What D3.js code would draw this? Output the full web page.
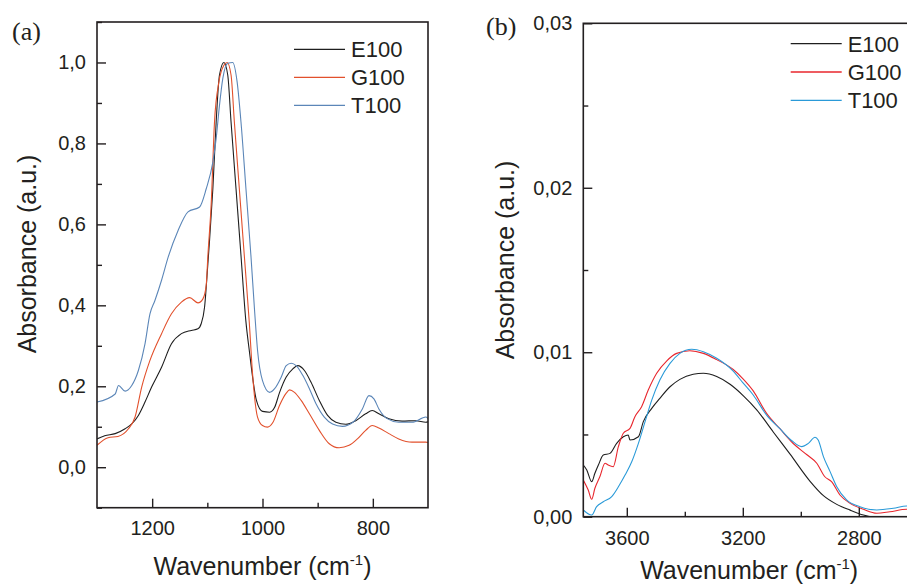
<!DOCTYPE html>
<html>
<head>
<meta charset="utf-8">
<script src="https://cdn.jsdelivr.net/npm/d3@7"></script>
<style>
    body { margin: 0; background: #fff; }
    text { font-family: "Liberation Sans", Arial, sans-serif; fill: #231f20; }
</style>
</head>
<body>
<div id="chart"></div>
<script>
// panel (a): 700-1300 cm-1, [wavenumber, absorbance]
var e100A = [[1300,0.070],[1286,0.078],[1267,0.083],[1249,0.095],[1237,0.107],[1225,0.128],[1213,0.161],
    [1201,0.198],[1183,0.247],[1165,0.305],[1147,0.330],[1129,0.338],[1117,0.342],[1111,0.355],[1105,0.396],
    [1099,0.503],[1096,0.560],[1090,0.688],[1084,0.853],[1078,0.969],[1070,1.0],[1063,0.969],[1057,0.853],
    [1048,0.688],[1039,0.523],[1030,0.359],[1024,0.289],[1011,0.165],[1000,0.138],[987,0.136],[978,0.148],
    [969,0.185],[957,0.223],[945,0.243],[936,0.251],[924,0.239],[912,0.210],[897,0.165],[882,0.128],
    [867,0.111],[849,0.106],[831,0.115],[813,0.132],[801,0.140],[789,0.132],[771,0.120],[747,0.114],
    [722,0.115],[704,0.111],[700,0.112]];
var g100A = [[1300,0.054],[1280,0.073],[1262,0.076],[1243,0.095],[1231,0.124],[1219,0.198],[1204,0.264],
    [1183,0.330],[1165,0.379],[1147,0.408],[1132,0.419],[1117,0.406],[1108,0.416],[1102,0.450],[1099,0.523],
    [1093,0.650],[1087,0.853],[1079,0.952],[1070,0.993],[1064,1.0],[1057,0.969],[1051,0.853],[1042,0.688],
    [1033,0.523],[1024,0.359],[1018,0.230],[1009,0.124],[1000,0.103],[991,0.099],[981,0.111],[969,0.153],
    [957,0.183],[951,0.191],[942,0.185],[930,0.165],[915,0.132],[897,0.091],[879,0.058],[861,0.048],
    [843,0.054],[828,0.070],[813,0.091],[801,0.103],[789,0.097],[771,0.083],[753,0.070],[729,0.062],
    [704,0.062],[700,0.061]];
var t100A = [[1300,0.161],[1267,0.181],[1261,0.202],[1249,0.188],[1237,0.202],[1225,0.239],[1213,0.305],
    [1204,0.379],[1195,0.412],[1183,0.462],[1171,0.519],[1153,0.585],[1135,0.631],[1114,0.643],[1102,0.688],
    [1090,0.754],[1084,0.812],[1078,0.894],[1072,0.960],[1063,0.998],[1054,1.0],[1046,0.952],[1039,0.853],
    [1030,0.688],[1021,0.523],[1014,0.380],[1009,0.289],[1000,0.214],[987,0.185],[978,0.194],[966,0.223],
    [957,0.251],[948,0.257],[939,0.251],[927,0.227],[915,0.194],[903,0.157],[888,0.124],[873,0.107],
    [855,0.101],[836,0.111],[819,0.144],[807,0.177],[798,0.169],[789,0.144],[774,0.120],[753,0.111],
    [729,0.111],[704,0.124],[700,0.120]];

// panel (b): 2600-3750 cm-1
var e100B = [[3750,0.00314],[3738,0.00284],[3721,0.00213],[3710,0.00264],[3698,0.00314],[3681,0.00375],
    [3658,0.00385],[3635,0.00446],[3612,0.00486],[3595,0.00497],[3589,0.00466],[3560,0.00486],[3543,0.00578],
    [3514,0.00659],[3486,0.00720],[3451,0.00790],[3417,0.00835],[3371,0.00866],[3336,0.00872],[3290,0.00852],
    [3244,0.00805],[3198,0.00735],[3152,0.00650],[3095,0.00515],[3037,0.00380],[2968,0.00215],[2922,0.00128],
    [2876,0.00075],[2830,0.00040],[2784,0.00010],[2727,-0.0001],[2650,-0.0002]];
var g100B = [[3750,0.00223],[3733,0.00162],[3721,0.00106],[3710,0.00173],[3693,0.00243],[3675,0.00325],
    [3664,0.00314],[3647,0.00304],[3629,0.00426],[3612,0.00507],[3589,0.00537],[3572,0.00608],[3549,0.00669],
    [3526,0.00770],[3497,0.00872],[3462,0.00948],[3428,0.00993],[3383,0.01009],[3336,0.00993],[3290,0.00955],
    [3233,0.00895],[3200,0.00840],[3164,0.00765],[3118,0.00628],[3072,0.00535],[3026,0.00445],[2980,0.00378],
    [2945,0.00325],[2917,0.00243],[2894,0.00213],[2865,0.00132],[2830,0.00081],[2784,0.00045],[2738,0.00021],
    [2693,0.00030],[2635,0.00045],[2600,0.00045]];
var t100B = [[3750,0.00041],[3721,0.00010],[3704,0.00061],[3681,0.00091],[3652,0.00122],[3629,0.00182],
    [3606,0.00253],[3583,0.00334],[3560,0.00446],[3537,0.00578],[3514,0.00709],[3486,0.00831],[3451,0.00932],
    [3417,0.00993],[3376,0.01018],[3336,0.01003],[3290,0.00963],[3233,0.00885],[3200,0.00815],[3164,0.00740],
    [3118,0.00618],[3072,0.00535],[3031,0.00462],[2997,0.00426],[2974,0.00446],[2951,0.00483],[2940,0.00466],
    [2922,0.00365],[2899,0.00274],[2876,0.00182],[2842,0.00102],[2796,0.00061],[2738,0.00041],[2681,0.00051],
    [2635,0.00065],[2600,0.00065]];

var seriesNames = ["E100", "G100", "T100"];
var coloursA = ["#1e1e1e", "#e2502c", "#5b86b8"];
var coloursB = ["#1e1e1e", "#e8262d", "#2a9ad8"];

var xMajorA = [1200, 1000, 800], xMinorA = [1100, 900];
var yMajorA = [0, 0.2, 0.4, 0.6, 0.8, 1.0], yMinorA = [-0.1, 0.1, 0.3, 0.5, 0.7, 0.9, 1.1];
var xMajorB = [3600, 3200, 2800], xMinorB = [3400, 3000];
var yMajorB = [0, 0.01, 0.02, 0.03], yMinorB = [0.005, 0.015, 0.025];

var locale = d3.formatLocale({decimal: ",", thousands: ".", grouping: [3], currency: ["", ""]});

var w = 907, h = 584;
var svg = d3.select("#chart").append("svg")
    .attr("width", w)
    .attr("height", h);

function drawPanel(p) {
    var g = svg.append("g");
    var x = d3.scaleLinear().domain(p.xDomain).range([p.left, p.right]);
    var y = d3.scaleLinear().domain(p.yDomain).range([p.bottom, p.top]);

    g.append("clipPath").attr("id", p.id + "clip")
        .append("rect")
        .attr("x", p.left).attr("y", p.top)
        .attr("width", p.right - p.left).attr("height", p.bottom - p.top);

    var line = d3.line()
        .x(function(d) { return x(d[0]); })
        .y(function(d) { return y(d[1]); })
        .curve(d3.curveMonotoneX);

    p.series.forEach(function(s, i) {
        g.append("path")
            .datum(s.slice().sort(function(a, b) { return x(a[0]) - x(b[0]); }))
            .attr("clip-path", "url(#" + p.id + "clip)")
            .attr("fill", "none")
            .attr("stroke", p.colours[i])
            .attr("stroke-width", 1.1)
            .attr("d", line);
    });

    // axes with inward ticks
    var xAxis = d3.axisBottom(x).tickValues(p.xMajor).tickFormat(d3.format("d"))
        .tickSizeInner(-9).tickSizeOuter(0).tickPadding(p.xPad);
    var xMinor = d3.axisBottom(x).tickValues(p.xMinor).tickFormat("")
        .tickSizeInner(-5).tickSizeOuter(0);
    var yAxis = d3.axisLeft(y).tickValues(p.yMajor).tickFormat(locale.format(p.yFmt))
        .tickSizeInner(-9).tickSizeOuter(0).tickPadding(11);
    var yMinor = d3.axisLeft(y).tickValues(p.yMinor).tickFormat("")
        .tickSizeInner(-5).tickSizeOuter(0);

    [[xAxis, "translate(0," + p.bottom + ")"], [xMinor, "translate(0," + p.bottom + ")"],
     [yAxis, "translate(" + p.left + ",0)"], [yMinor, "translate(" + p.left + ",0)"]].forEach(function(a) {
        var ax = g.append("g").attr("transform", a[1]).call(a[0]);
        ax.select(".domain").remove();
        ax.selectAll("line").attr("stroke", "#231f20").attr("stroke-width", 1.4);
        ax.selectAll("text").attr("font-size", 20).attr("fill", "#231f20");
    });

    g.append("rect")
        .attr("x", p.left).attr("y", p.top)
        .attr("width", p.right - p.left).attr("height", p.bottom - p.top)
        .attr("fill", "none").attr("stroke", "#231f20").attr("stroke-width", 1.6);

    // titles
    var xt = g.append("text")
        .attr("x", (p.left + Math.min(p.right, w)) / 2 + p.xTitleShift)
        .attr("y", p.xTitleY)
        .attr("text-anchor", "middle")
        .attr("font-size", 25);
    xt.append("tspan").text("Wavenumber (cm");
    xt.append("tspan").attr("font-size", 15).attr("dy", -10).text("-1");
    xt.append("tspan").attr("dy", 10).text(")");

    g.append("text")
        .attr("transform", "translate(" + p.yTitleX + "," + p.yTitleY + ") rotate(-90)")
        .attr("text-anchor", "middle")
        .attr("font-size", 25)
        .text("Absorbance (a.u.)");

    g.append("text")
        .attr("x", p.tagX).attr("y", p.tagY)
        .style("font-family", "'Liberation Serif', 'Times New Roman', serif")
        .attr("font-size", 26)
        .text(p.tag);

    // legend
    seriesNames.forEach(function(name, i) {
        var ly = p.legY + i * p.legStep;
        g.append("line")
            .attr("x1", p.legX).attr("x2", p.legX + 51)
            .attr("y1", ly).attr("y2", ly)
            .attr("stroke", p.colours[i]).attr("stroke-width", 1.3);
        g.append("text")
            .attr("x", p.legX + 57).attr("y", ly)
            .attr("dy", "0.36em")
            .attr("font-size", 22)
            .text(name);
    });
}

drawPanel({
    id: "a", tag: "(a)", tagX: 12, tagY: 40,
    left: 97, right: 428, top: 22, bottom: 507.7,
    xDomain: [1300, 700], yDomain: [-0.1, 1.1],
    xMajor: xMajorA, xMinor: xMinorA, yMajor: yMajorA, yMinor: yMinorA, yFmt: ".1f",
    xPad: 13, xTitleY: 575, xTitleShift: 0, yTitleX: 36, yTitleY: 254,
    series: [e100A, g100A, t100A], colours: coloursA,
    legX: 294, legY: 49.3, legStep: 28
});

drawPanel({
    id: "b", tag: "(b)", tagX: 486, tagY: 35,
    left: 583.3, right: 916.8, top: 23.3, bottom: 516.7,
    xDomain: [3750, 2600], yDomain: [0, 0.03],
    xMajor: xMajorB, xMinor: xMinorB, yMajor: yMajorB, yMinor: yMinorB, yFmt: ".2f",
    xPad: 14, xTitleY: 579, xTitleShift: 4, yTitleX: 514, yTitleY: 260,
    series: [e100B, g100B, t100B], colours: coloursB,
    legX: 790.7, legY: 43.7, legStep: 28.3
});
</script>
</body>
</html>
